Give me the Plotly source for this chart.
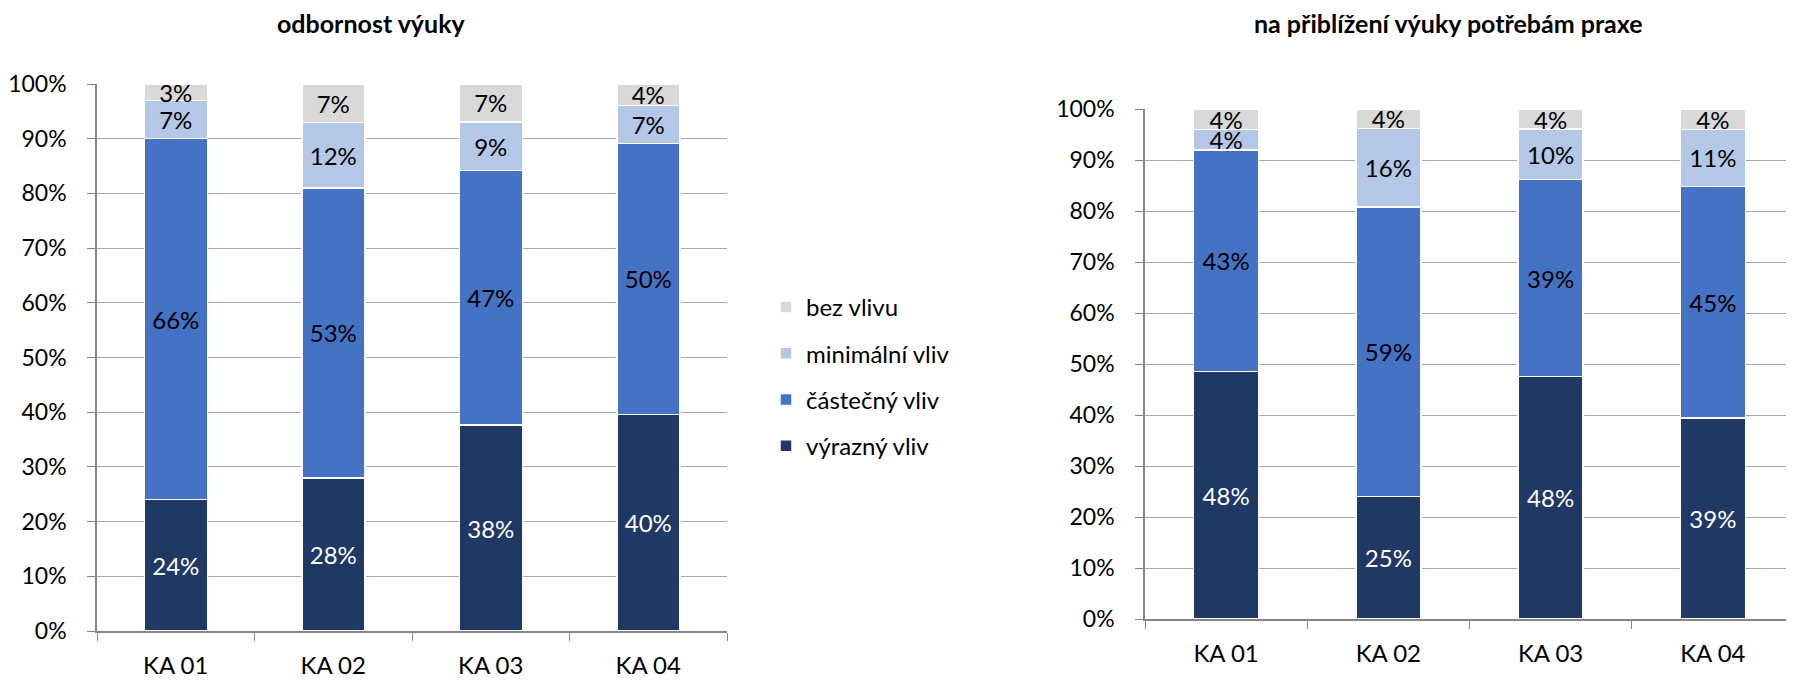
import plotly.graph_objects as go

# data (raw values, chart is 100 % stacked)
categories = ["KA 01", "KA 02", "KA 03", "KA 04"]
series_names = ["výrazný vliv", "částečný vliv", "minimální vliv", "bez vlivu"]

odbornost_vyrazny = [24, 28, 38, 40]
odbornost_castecny = [66, 53, 47, 50]
odbornost_minimalni = [7, 12, 9, 7]
odbornost_bez = [3, 7, 7, 4]

praxe_vyrazny = [48, 25, 48, 39]
praxe_castecny = [43, 59, 39, 45]
praxe_minimalni = [4, 16, 10, 11]
praxe_bez = [4, 4, 4, 4]

title_left = "odbornost výuky"
title_right = "na přiblížení výuky potřebám praxe"

COLORS = ["#203864", "#4472C4", "#B4C7E7", "#D9D9D9"]
TEXT_COLORS = ["#FFFFFF", "#000000", "#000000", "#000000"]
FONT = "Lato, 'Open Sans', sans-serif"
W, H = 1794, 681

left_series = [odbornost_vyrazny, odbornost_castecny, odbornost_minimalni, odbornost_bez]
right_series = [praxe_vyrazny, praxe_castecny, praxe_minimalni, praxe_bez]

fig = go.Figure()

for i, name in enumerate(series_names):
    for vals, xa, ya, show in [(left_series[i], "x", "y", True), (right_series[i], "x2", "y2", False)]:
        fig.add_trace(go.Bar(
            x=categories,
            y=vals,
            name=name,
            legendgroup=name,
            legendrank=len(series_names) - i,  # bez vlivu on top of the legend
            showlegend=show,
            xaxis=xa,
            yaxis=ya,
            marker=dict(color=COLORS[i], line=dict(color="#FFFFFF", width=1.5)),
            text=[f"{v}%" for v in vals],
            textposition="inside",
            insidetextanchor="middle",
            textangle=0,
            textfont=dict(family=FONT, size=24, color=TEXT_COLORS[i]),
            hovertemplate="%{x}: %{text}<extra>" + name + "</extra>",
        ))

# page offset: the html body adds ~8px margin, positions below are in page px
def px_x(p):
    return p / W

def px_y(p):
    return 1 - p / H

def x_axis(domain, anchor):
    return dict(
        domain=domain,
        anchor=anchor,
        automargin=False,
        showline=True,
        linecolor="#868686",
        linewidth=1.5,
        ticks="outside",
        tickson="boundaries",
        ticklen=8,
        tickcolor="#868686",
        ticklabelstandoff=12,
        tickfont=dict(family=FONT, size=24, color="#000000"),
    )

def y_axis(domain, anchor):
    return dict(
        domain=domain,
        anchor=anchor,
        automargin=False,
        range=[0, 100],
        dtick=10,
        ticksuffix="%",
        showline=True,
        linecolor="#868686",
        linewidth=1.5,
        ticks="outside",
        ticklen=8,
        tickcolor="#868686",
        ticklabelstandoff=16,
        showgrid=True,
        gridcolor="#A6A6A6",
        gridwidth=1.2,
        zeroline=False,
        tickfont=dict(family=FONT, size=23, color="#000000"),
    )

fig.update_layout(
    width=W,
    height=H,
    barmode="stack",
    barnorm="percent",
    bargap=0.6,
    paper_bgcolor="#FFFFFF",
    plot_bgcolor="#FFFFFF",
    margin=dict(l=0, r=0, t=0, b=0, autoexpand=False),
    font=dict(family=FONT, color="#000000"),
    uniformtext=dict(minsize=24, mode="show"),
    xaxis=x_axis([px_x(89), px_x(719)], "y"),
    yaxis=y_axis([px_y(623), px_y(76)], "x"),
    xaxis2=x_axis([px_x(1137), px_x(1786)], "y2"),
    yaxis2=y_axis([px_y(611), px_y(101)], "x2"),
    legend=dict(
        x=px_x(758),
        y=px_y(277),
        xanchor="left",
        yanchor="top",
        traceorder="grouped",
        tracegroupgap=12,
        font=dict(family=FONT, size=24, color="#000000"),
        bgcolor="rgba(0,0,0,0)",
    ),
    annotations=[
        dict(text="<b>" + title_left + "</b>", x=px_x(363), y=px_y(15), xref="paper", yref="paper",
             xanchor="center", yanchor="middle", showarrow=False,
             font=dict(family=FONT, size=25, color="#000000")),
        dict(text="<b>" + title_right + "</b>", x=px_x(1440), y=px_y(15), xref="paper", yref="paper",
             xanchor="center", yanchor="middle", showarrow=False,
             font=dict(family=FONT, size=25, color="#000000")),
    ],
)

fig.write_html("out.html")
